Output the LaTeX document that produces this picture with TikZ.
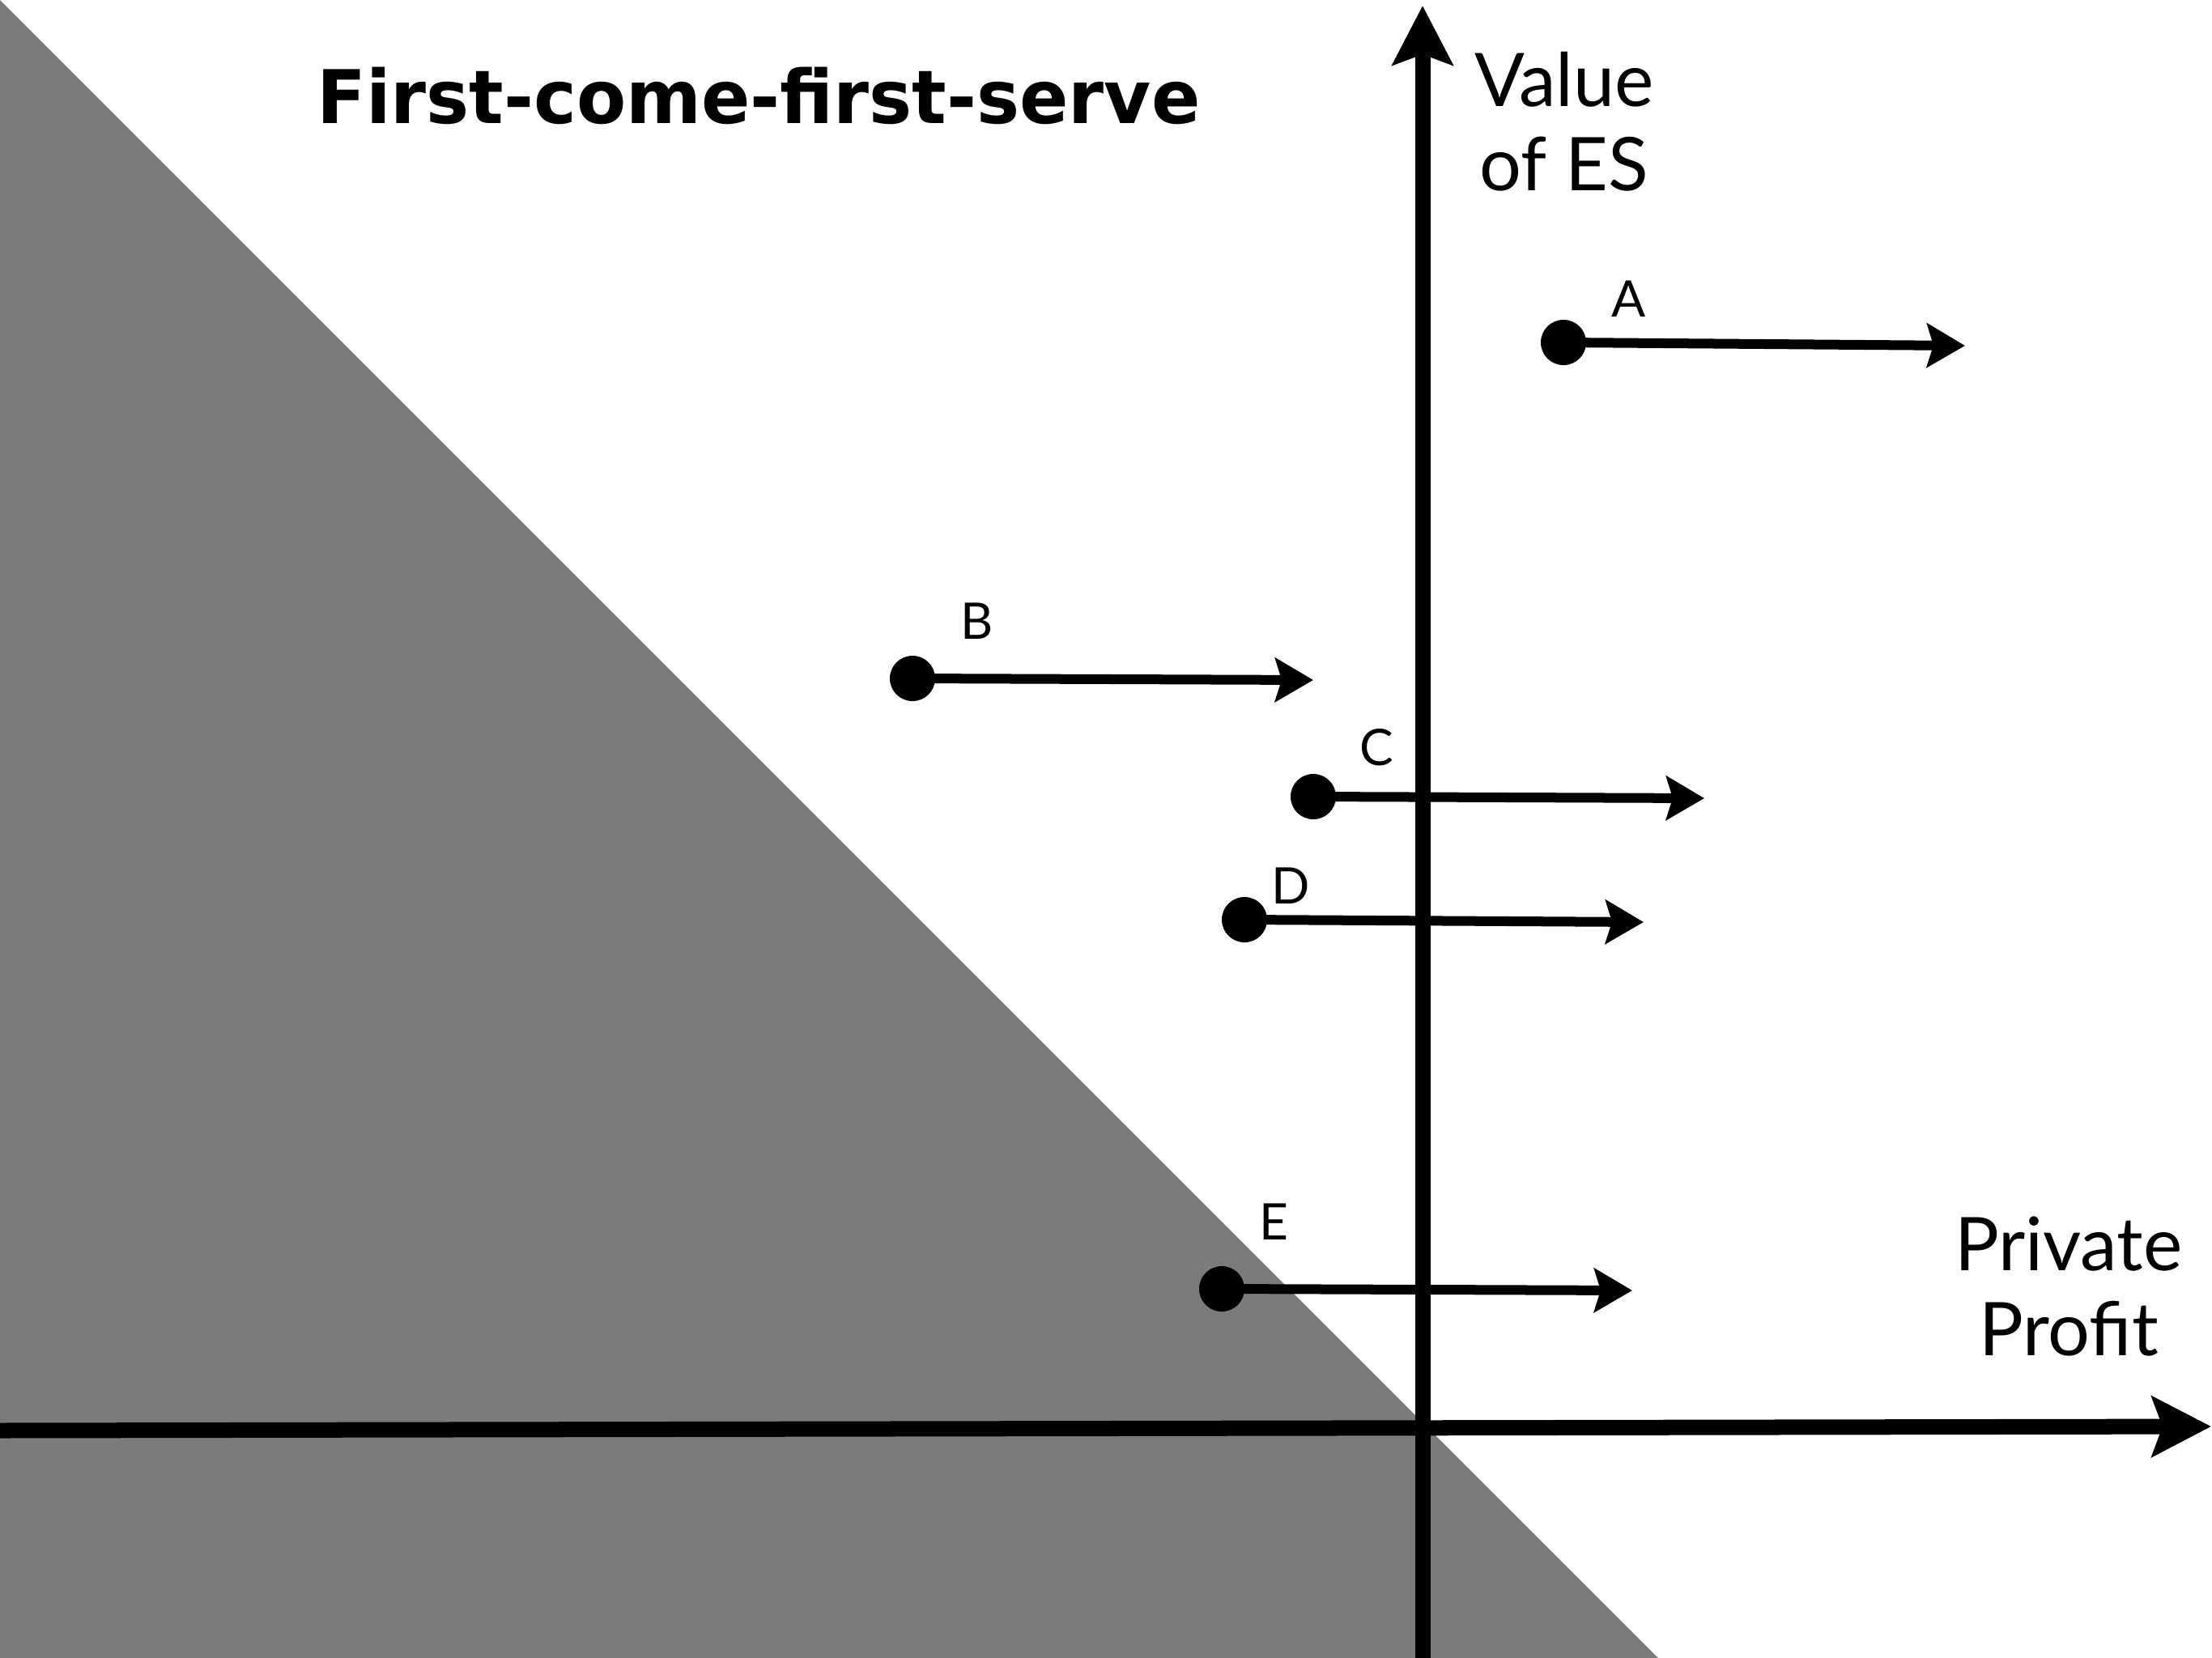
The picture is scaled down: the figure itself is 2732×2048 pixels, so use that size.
\documentclass[tikz,border=0pt]{standalone}
\usepackage{fontspec}
\setmainfont{Lato}
\newfontfamily\titlefont{DejaVu Sans}
\usetikzlibrary{arrows.meta}
\definecolor{regiongray}{RGB}{123,123,123}
\tikzset{
  axisline/.style={line width=0.19cm, -{Stealth[length=0.73cm, width=0.74cm, inset=0.13cm]}},
  moveline/.style={line width=0.12cm, -{Stealth[length=0.47cm, width=0.54cm, inset=0.08cm]}, shorten <=-2pt},
  dotnode/.style={circle, fill=black, inner sep=0pt, minimum size=0.56cm},
  ptlabel/.style={font=\fontsize{17.7}{20}\selectfont, inner sep=0pt},
  axlabel/.style={font=\fontsize{26}{29.6}\selectfont, align=center, inner sep=0pt},
}
\begin{document}
\begin{tikzpicture}[x=0.01cm, y=-0.01cm]
\useasboundingbox (0,0) rectangle (2732,2048);
\fill[white] (0,0) rectangle (2732,2048);
% shaded region
\fill[regiongray] (0,0) -- (2048,2048) -- (0,2048) -- cycle;
% axes
\coordinate (ybot) at (1757,2048);
\coordinate (ytop) at (1757,7);
\coordinate (xleft) at (0,1767);
\coordinate (xright) at (2731,1762);
\draw[axisline] (xleft) -- (xright);
\draw[axisline] (ybot) -- (ytop);
% title and axis labels
\node[font=\titlefont\bfseries\fontsize{26}{30}\selectfont, inner sep=0pt, xscale=0.975] (title) at (937,118) {First-come-first-serve};
\node[axlabel] (ylab) at (1932,150) {Value\\of ES};
\node[axlabel] (xlab) at (2555,1589) {Private\\Profit};
% points
\node[dotnode] (A) at (1931,423) {};
\node[dotnode] (B) at (1127,838) {};
\node[dotnode] (C) at (1622,984) {};
\node[dotnode] (D) at (1537,1136) {};
\node[dotnode] (E) at (1509,1592) {};
\coordinate (Aend) at (2427,427);
\coordinate (Bend) at (1622,840);
\coordinate (Cend) at (2105,986);
\coordinate (Dend) at (2030,1139);
\coordinate (Eend) at (2016,1594);
\draw[moveline] (A) -- (Aend);
\draw[moveline] (B) -- (Bend);
\draw[moveline] (C) -- (Cend);
\draw[moveline] (D) -- (Dend);
\draw[moveline] (E) -- (Eend);
\node[ptlabel] (lA) at (2012,369) {A};
\node[ptlabel] (lB) at (1207,767) {B};
\node[ptlabel] (lC) at (1700,923) {C};
\node[ptlabel] (lD) at (1594,1094) {D};
\node[ptlabel] (lE) at (1573,1509) {E};
\end{tikzpicture}
\end{document}
